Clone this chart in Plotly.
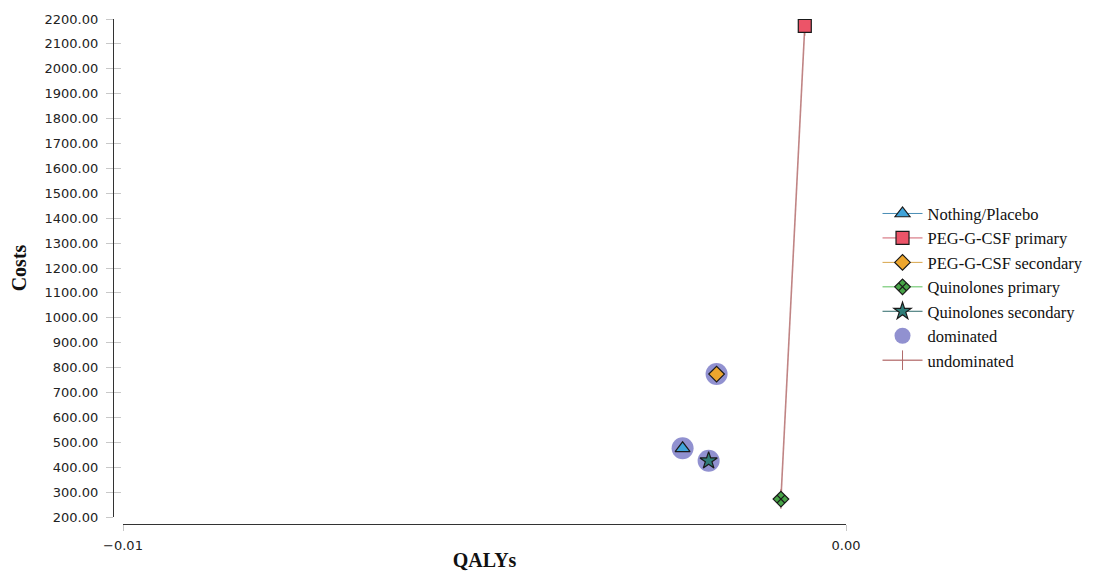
import plotly.graph_objects as go

# ---- data ----
strategies = ["Nothing/Placebo", "PEG-G-CSF primary", "PEG-G-CSF secondary",
              "Quinolones primary", "Quinolones secondary"]
qalys = [-0.00226, -0.00057, -0.00179, -0.00090, -0.00190]
costs = [476, 2172, 774, 272, 426]
dominated = ["Nothing/Placebo", "PEG-G-CSF secondary", "Quinolones secondary"]
undominated = ["Quinolones primary", "PEG-G-CSF primary"]

y_ticks = list(range(200, 2201, 100))
x_range = [-0.01, 0.0]
y_range = [200, 2200]

# ---- styles ----
styles = {
    "Nothing/Placebo": dict(symbol="triangle-up", size=13, fill="#3fa3d9", line="#4a8db5"),
    "PEG-G-CSF primary": dict(symbol="square", size=13, fill="#ec5468", line="#d0606e"),
    "PEG-G-CSF secondary": dict(symbol="diamond", size=12, fill="#eda62e", line="#d8a54a"),
    "Quinolones primary": dict(symbol="diamond-x", size=12, fill="#47a447", line="#5cc05c"),
    "Quinolones secondary": dict(symbol="star", size=13, fill="#2f7d78", line="#2e6a6a"),
}

fig = go.Figure()

idx = {s: i for i, s in enumerate(strategies)}

# undominated frontier
fig.add_trace(go.Scatter(
    x=[qalys[idx[s]] for s in undominated],
    y=[costs[idx[s]] for s in undominated],
    mode="lines+markers", name="undominated",
    line=dict(color="#c08484", width=1.6),
    marker=dict(symbol="line-ns", size=14, line=dict(color="#b06a6a", width=1)),
    legendrank=7,
))

# dominated halos
fig.add_trace(go.Scatter(
    x=[qalys[idx[s]] for s in dominated],
    y=[costs[idx[s]] for s in dominated],
    mode="markers", name="dominated",
    marker=dict(symbol="circle", size=22, color="rgba(126,126,200,0.85)", line=dict(width=0)),
    legendrank=6,
))

for rank, s in enumerate(strategies, start=1):
    st = styles[s]
    fig.add_trace(go.Scatter(
        x=[qalys[idx[s]]], y=[costs[idx[s]]],
        mode="lines+markers", name=s,
        line=dict(color=st["line"], width=1),
        marker=dict(symbol=st["symbol"], size=st["size"], color=st["fill"],
                    line=dict(color="#1a1a1a", width=1.2)),
        legendrank=rank,
    ))

tick_font = dict(family="DejaVu Sans", size=13, color="#222222")
title_font = dict(family="Liberation Serif", size=20, color="#111111", weight="bold")

# page body adds an 8px margin, so the figure is 8px smaller in each direction
fig.update_layout(
    width=1090, height=563,
    margin=dict(l=105, r=252, t=11, b=47, autoexpand=False),
    plot_bgcolor="white", paper_bgcolor="white",
    showlegend=True,
    legend=dict(
        x=1.043, y=0.649, xanchor="left", yanchor="top",
        font=dict(family="Liberation Serif", size=16.5, color="#111111"),
        itemwidth=40, tracegroupgap=0, bgcolor="rgba(0,0,0,0)",
    ),
    xaxis=dict(
        range=x_range, domain=[10 / 733, 1], anchor="free", position=0,
        tickvals=x_range, tickformat=".2f", automargin=False,
        showline=True, linecolor="#333333", linewidth=1.2,
        ticks="outside", ticklen=6, tickcolor="#c8c8c8", ticklabelstandoff=3,
        showgrid=False, zeroline=False, tickfont=tick_font,
        title=dict(text="QALYs", font=title_font, standoff=7),
    ),
    yaxis=dict(
        range=y_range, domain=[7 / 505, 1], anchor="free", position=0,
        tickvals=y_ticks, tickformat=".2f", automargin=False,
        showline=True, linecolor="#333333", linewidth=1.2,
        ticks="outside", ticklen=7, tickcolor="#c8c8c8", ticklabelstandoff=5,
        showgrid=False, zeroline=False, tickfont=tick_font,
        title=dict(text="Costs", font=title_font, standoff=11),
    ),
    xaxis2=dict(
        range=x_range, domain=[10 / 733, 1], anchor="free", position=0,
        overlaying="x", tickvals=x_range, showticklabels=False,
        ticks="inside", ticklen=6, tickcolor="#c8c8c8",
        showline=False, showgrid=False, zeroline=False,
    ),
    yaxis2=dict(
        range=y_range, domain=[7 / 505, 1], anchor="free", position=0,
        overlaying="y", tickvals=y_ticks, showticklabels=False,
        ticks="inside", ticklen=7, tickcolor="#c8c8c8",
        showline=False, showgrid=False, zeroline=False,
    ),
)

# invisible helper trace so the overlay axes are drawn
fig.add_trace(go.Scatter(x=[None], y=[None], xaxis="x2", yaxis="y2",
                         showlegend=False, hoverinfo="skip"))

fig.write_html("out.html")
